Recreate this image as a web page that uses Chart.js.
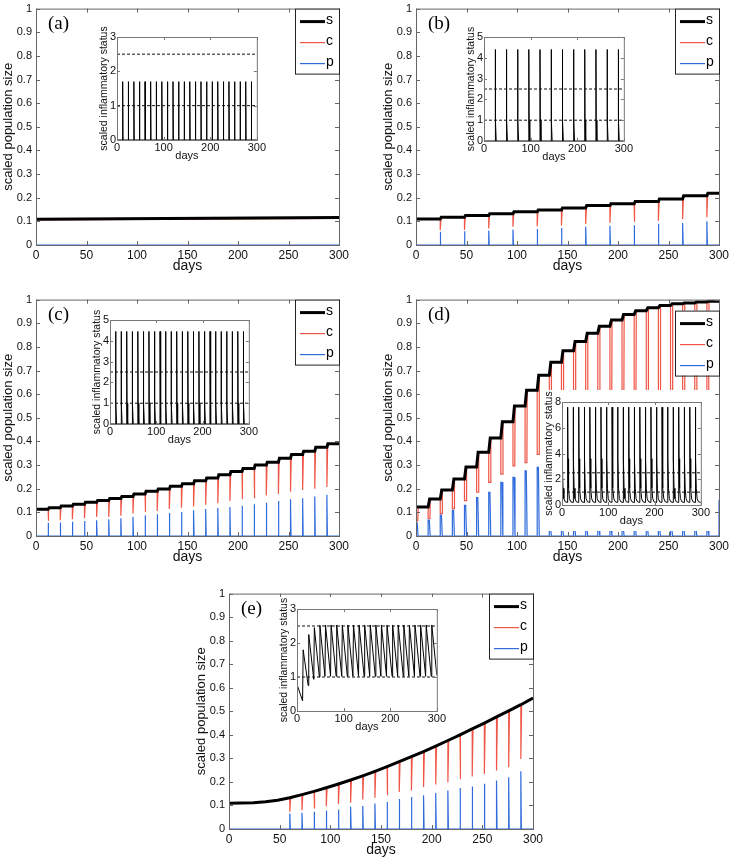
<!DOCTYPE html>
<html>
<head>
<meta charset="utf-8">
<script src="https://cdn.jsdelivr.net/npm/chart.js@4.4.1/dist/chart.umd.min.js"></script>
<style>
  body { margin: 0; background: #fff; }
  #fig { position: relative; width: 731px; height: 861px; overflow: hidden; }
  #fig canvas { position: absolute; }
</style>
</head>
<body>
<div id="fig"></div>
<script>
// ---- data ----
const doses12 = [12, 24, 36, 48, 60, 72, 84, 96, 108, 120, 132, 144, 156, 168, 180, 192, 204, 216, 228, 240, 252, 264, 276, 288];
const doses24 = [24, 48, 72, 96, 120, 144, 168, 192, 216, 240, 264, 288];
const thresholds = [1, 2.5];

// (a)
const sDaysA = [0, 300];
const sValsA = [0.109, 0.116];
const cValsA = [0.106, 0.113];
const pValsA = [0, 0];
const insetOffsetsA = [0, 0.15, 1.0];
const insetProfileA = [0, 1.7, 0];

// (b)
const sLevelsB = [0.110, 0.117, 0.125, 0.132, 0.141, 0.148, 0.157, 0.167, 0.174, 0.184, 0.195, 0.208, 0.219];
const cDipsB = [0.063, 0.064, 0.070, 0.077, 0.079, 0.083, 0.089, 0.094, 0.098, 0.103, 0.109, 0.117];
const pPeaksB = [0.056, 0.058, 0.061, 0.065, 0.068, 0.072, 0.077, 0.081, 0.084, 0.090, 0.093, 0.100];
const insetOffsetsB = [0, 0.15, 0.8, 2.2];
const insetProfileB = [0, 4.4, 1.0, 0];

// (c)
const sLevelsC = [0.113, 0.120, 0.127, 0.134, 0.143, 0.150, 0.159, 0.167, 0.178, 0.189, 0.199, 0.210, 0.221,
                  0.234, 0.245, 0.259, 0.273, 0.286, 0.300, 0.312, 0.329, 0.345, 0.359, 0.375, 0.390];
const cDipsC = [0.064, 0.067, 0.071, 0.075, 0.081, 0.081, 0.086, 0.095, 0.102, 0.106, 0.114, 0.120,
                0.125, 0.132, 0.139, 0.148, 0.155, 0.160, 0.171, 0.178, 0.187, 0.195, 0.200, 0.207];
const pPeaksC = [0.056, 0.057, 0.060, 0.063, 0.067, 0.071, 0.075, 0.081, 0.088, 0.092, 0.097, 0.102,
                 0.109, 0.114, 0.118, 0.123, 0.128, 0.134, 0.141, 0.148, 0.155, 0.160, 0.167, 0.174];
const insetProfileC = [0, 4.45, 1.0, 0];

// (d)
const dosesD = [0, 12, 24, 36, 48, 60, 72, 84, 96, 108, 120, 132, 144, 156, 168, 180, 192, 204, 216, 228, 240, 252, 264, 276, 288, 300];
const sLevelsD = [0.123, 0.123, 0.156, 0.195, 0.241, 0.292, 0.354, 0.415, 0.483, 0.550, 0.617, 0.680, 0.735, 0.784,
                  0.823, 0.858, 0.887, 0.914, 0.937, 0.953, 0.965, 0.975, 0.982, 0.986, 0.990, 0.993, 0.993];
const cDipsD = [0.065, 0.074, 0.095, 0.116, 0.150, 0.185, 0.227, 0.262, 0.297, 0.310, 0.345,
                0.45, 0.50, 0.53, 0.55, 0.56, 0.57, 0.58, 0.58, 0.58, 0.58, 0.58, 0.58, 0.58, 0.58, null];
const pPeaksD = [0.056, 0.067, 0.088, 0.109, 0.130, 0.162, 0.185, 0.227, 0.248, 0.276, 0.290,
                 0.040, 0.040, 0.040, 0.040, 0.040, 0.040, 0.040, 0.040, 0.040, 0.040, 0.040, 0.040, 0.040, 0.040, 0.150];
const insetDosesD = [0, 12, 24, 36, 48, 60, 72, 84, 96, 108, 120, 132, 144, 156, 168, 180, 192, 204, 216, 228, 240, 252, 264, 276, 288];
const insetOffsetsD = [0, 0.2, 1.0, 2.2, 4, 7];
const insetProfileD = [0.2, 7.6, 3.6, 1.3, 0.5, 0.25];

// (e)
const sDaysE = [0, 12, 24, 36, 48, 60, 72, 84, 96, 108, 120, 132, 144, 156, 168, 180, 192, 204, 216, 228, 240, 252, 264, 276, 288, 300];
const sValsE = [0.109, 0.110, 0.112, 0.116, 0.122, 0.133, 0.146, 0.160, 0.175, 0.191, 0.208, 0.226, 0.245,
                0.265, 0.286, 0.307, 0.329, 0.352, 0.376, 0.400, 0.425, 0.450, 0.476, 0.502, 0.528, 0.556];
const dosesE = [60, 72, 84, 96, 108, 120, 132, 144, 156, 168, 180, 192, 204, 216, 228, 240, 252, 264, 276, 288];
const cDipsE = [0.073, 0.080, 0.087, 0.097, 0.105, 0.112, 0.125, 0.133, 0.143, 0.157,
                0.164, 0.178, 0.189, 0.199, 0.211, 0.223, 0.234, 0.248, 0.262, 0.297];
const pPeaksE = [0.066, 0.069, 0.073, 0.077, 0.083, 0.094, 0.098, 0.108, 0.115, 0.127,
                 0.136, 0.143, 0.153, 0.164, 0.174, 0.181, 0.192, 0.206, 0.220, 0.245];
const insetStartE = 0.78;
const insetEndE = 1.05;
const insetLowsE = [0.30, 0.75, 0.93, 1.00, 1.02, 1.02, 1.02, 1.02, 1.02, 1.02, 1.02, 1.02,
                    1.02, 1.02, 1.02, 1.02, 1.02, 1.02, 1.02, 1.02, 1.02, 1.02, 1.02, 1.02];
const insetHighsE = [1.80, 2.25, 2.45, 2.52, 2.53, 2.53, 2.53, 2.53, 2.53, 2.53, 2.53, 2.53,
                     2.53, 2.53, 2.53, 2.53, 2.53, 2.53, 2.53, 2.53, 2.53, 2.53, 2.53, 2.53];

const RED = '#ee5546';
const BLUE = '#2f6bdc';
const FONT = '"Liberation Sans", Arial, sans-serif';

Chart.defaults.font.family = FONT;
Chart.defaults.color = '#111';

// ---- series builders (turn the read values into line points) ----
function pairs(days, vals) {
    return days.map((d, i) => ({ x: d, y: vals[i] }));
}

function stepLine(doses, levels, rise) {
    const pts = [{ x: 0, y: levels[0] }];
    doses.forEach((d, i) => {
        pts.push({ x: d, y: levels[i] });
        pts.push({ x: d + rise, y: levels[i + 1] });
    });
    pts.push({ x: 300, y: levels[levels.length - 1] });
    return pts;
}

function dipLine(doses, levels, dips, hold, rec) {
    const pts = [{ x: 0, y: levels[0] }];
    doses.forEach((d, i) => {
        pts.push({ x: d, y: levels[i] });
        if (dips[i] !== null) {
            pts.push({ x: d, y: dips[i] });
            if (hold) pts.push({ x: d + hold, y: dips[i] });
        }
        pts.push({ x: d + hold + rec, y: levels[i + 1] });
    });
    pts.push({ x: 300, y: levels[levels.length - 1] });
    return pts;
}

function smoothDipLine(days, vals, doses, dips, rec) {
    const pts = [];
    days.forEach((d, j) => {
        pts.push({ x: d, y: vals[j] });
        const k = doses.indexOf(d);
        if (k >= 0) {
            pts.push({ x: d, y: dips[k] });
            pts.push({ x: d + rec, y: vals[j] });
        }
    });
    return pts;
}

function pulseLine(doses, peaks, hold, fall) {
    const pts = [{ x: 0, y: 0 }];
    doses.forEach((d, i) => {
        pts.push({ x: d, y: 0 }, { x: d, y: peaks[i] });
        if (hold) pts.push({ x: d + hold, y: peaks[i] });
        pts.push({ x: d + hold + fall, y: 0 });
    });
    pts.push({ x: 300, y: 0 });
    return pts;
}

function profileLine(doses, offsets, profile, base) {
    const pts = [{ x: 0, y: base }];
    doses.forEach(d => offsets.forEach((o, k) => pts.push({ x: d + o, y: profile[k] })));
    pts.push({ x: 300, y: base });
    return pts;
}

function sawLine(start, doses, lows, highs, end) {
    const pts = [{ x: 0, y: start }];
    doses.forEach((d, i) => {
        pts.push({ x: d, y: lows[i] }, { x: d + 1.2, y: highs[i] });
    });
    pts.push({ x: 300, y: end });
    return pts;
}

// ---- drawing helpers ----
const framePlugin = {
    id: 'frame',
    afterDatasetsDraw(chart, args, opts) {
        const { ctx, chartArea: a, scales: { x, y } } = chart;
        const len = opts.len;
        ctx.save();
        ctx.strokeStyle = opts.color;
        ctx.lineWidth = 1;
        ctx.beginPath();
        x.ticks.forEach(t => {
            const px = Math.round(x.getPixelForValue(t.value)) + 0.5;
            ctx.moveTo(px, a.bottom); ctx.lineTo(px, a.bottom - len);
            ctx.moveTo(px, a.top); ctx.lineTo(px, a.top + len);
        });
        y.ticks.forEach(t => {
            const py = Math.round(y.getPixelForValue(t.value)) + 0.5;
            ctx.moveTo(a.left, py); ctx.lineTo(a.left + len, py);
            ctx.moveTo(a.right, py); ctx.lineTo(a.right - len, py);
        });
        ctx.stroke();
        ctx.strokeRect(a.left + 0.5, a.top + 0.5, a.right - a.left, a.bottom - a.top);
        ctx.restore();
    }
};

const keyPlugin = {
    id: 'key',
    afterDraw(chart, args, opts) {
        const { ctx, chartArea: a } = chart;
        const w = 44, h = 65;
        const x0 = a.right - w, y0 = a.top + opts.top;
        ctx.save();
        ctx.fillStyle = '#fff';
        ctx.fillRect(x0, y0, w, h);
        ctx.strokeStyle = '#222';
        ctx.lineWidth = 1;
        ctx.strokeRect(x0 + 0.5, y0 + 0.5, w, h);
        ctx.font = '14px ' + FONT;
        ctx.textBaseline = 'middle';
        chart.data.datasets.forEach((ds, i) => {
            const yy = y0 + 13 + i * 21;
            ctx.beginPath();
            ctx.strokeStyle = ds.borderColor;
            ctx.lineWidth = ds.borderWidth;
            ctx.moveTo(x0 + 5, yy);
            ctx.lineTo(x0 + 30, yy);
            ctx.stroke();
            ctx.fillStyle = '#000';
            ctx.fillText(ds.label, x0 + 31, yy - 1);
        });
        ctx.restore();
    }
};

const tagPlugin = {
    id: 'tag',
    afterDraw(chart, args, opts) {
        const { ctx, chartArea: a } = chart;
        ctx.save();
        ctx.font = '19px "Liberation Serif", "Times New Roman", serif';
        ctx.fillStyle = '#000';
        ctx.textBaseline = 'middle';
        ctx.fillText(opts.text, a.left + 12, a.top + 15);
        ctx.restore();
    }
};

const whitePlugin = {
    id: 'white',
    beforeDraw(chart) {
        const ctx = chart.ctx;
        ctx.save();
        ctx.fillStyle = '#fff';
        ctx.fillRect(0, 0, chart.width, chart.height);
        ctx.restore();
    }
};

const fig = document.getElementById('fig');
function addCanvas(left, top, w, h) {
    const cv = document.createElement('canvas');
    cv.width = w;
    cv.height = h;
    cv.style.left = left + 'px';
    cv.style.top = top + 'px';
    cv.style.width = w + 'px';
    cv.style.height = h + 'px';
    fig.appendChild(cv);
    return cv;
}

function mainChart(box, tag, sPts, cPts, pPts, keyTop) {
    const padT = 8, padR = 14, yW = 36, xH = 34;
    const cv = addCanvas(box.L - yW, box.T - padT, box.R - box.L + yW + padR, box.B - box.T + padT + xH);
    return new Chart(cv, {
        type: 'line',
        data: {
            datasets: [
                { label: 's', data: sPts, borderColor: '#000', borderWidth: 3 },
                { label: 'c', data: cPts, borderColor: RED, borderWidth: 1.2 },
                { label: 'p', data: pPts, borderColor: BLUE, borderWidth: 1.2 }
            ]
        },
        options: {
            responsive: false,
            animation: false,
            events: [],
            elements: { point: { radius: 0 }, line: { tension: 0 } },
            layout: { padding: { top: padT, right: padR, left: 0, bottom: 0 }, autoPadding: false },
            scales: {
                x: {
                    type: 'linear', min: 0, max: 300,
                    afterFit: s => { s.height = xH; },
                    grid: { display: false, drawTicks: false },
                    border: { display: false },
                    ticks: { stepSize: 50, maxRotation: 0, autoSkip: false, padding: 3, font: { size: 12 } },
                    title: { display: true, text: 'days', font: { size: 14 }, padding: { top: 0, bottom: 4 } }
                },
                y: {
                    min: 0, max: 1,
                    afterFit: s => { s.width = yW; },
                    grid: { display: false, drawTicks: false },
                    border: { display: false },
                    ticks: { stepSize: 0.1, autoSkip: false, padding: 4, font: { size: 11 },
                             callback: v => String(Number(v.toFixed(1))) },
                    title: { display: true, text: 'scaled population size', font: { size: 13 }, padding: { top: 1, bottom: 0 } }
                }
            },
            plugins: {
                legend: { display: false },
                tooltip: { enabled: false },
                frame: { len: 4, color: '#666' },
                key: { top: keyTop },
                tag: { text: tag }
            }
        },
        plugins: [framePlugin, keyPlugin, tagPlugin]
    });
}

function insetChart(box, yMax, yStep, pts) {
    const padT = 12, padR = 10, yW = 20, xH = 26;
    const cv = addCanvas(box.L - yW, box.T - padT, box.R - box.L + yW + padR, box.B - box.T + padT + xH);
    const dashed = thresholds.map(v => ({
        data: [{ x: 0, y: v }, { x: 300, y: v }],
        borderColor: '#111', borderWidth: 1, borderDash: [3, 2]
    }));
    return new Chart(cv, {
        type: 'line',
        data: { datasets: [...dashed, { data: pts, borderColor: '#000', borderWidth: 1 }] },
        options: {
            responsive: false,
            animation: false,
            events: [],
            elements: { point: { radius: 0 }, line: { tension: 0 } },
            layout: { padding: { top: padT, right: padR, left: 0, bottom: 0 }, autoPadding: false },
            scales: {
                x: {
                    type: 'linear', min: 0, max: 300,
                    afterFit: s => { s.height = xH; },
                    grid: { display: false, drawTicks: false },
                    border: { display: false },
                    ticks: { stepSize: 100, maxRotation: 0, autoSkip: false, padding: 1, font: { size: 11 } },
                    title: { display: true, text: 'days', font: { size: 11 }, padding: { top: 0, bottom: 3 } }
                },
                y: {
                    min: 0, max: yMax,
                    afterFit: s => { s.width = yW; },
                    grid: { display: false, drawTicks: false },
                    border: { display: false },
                    ticks: { stepSize: yStep, autoSkip: false, padding: 1, font: { size: 11 } },
                    title: { display: true, text: 'scaled inflammatory status', font: { size: 10.5 }, padding: { top: 1, bottom: 0 } }
                }
            },
            plugins: {
                legend: { display: false },
                tooltip: { enabled: false },
                frame: { len: 3, color: '#777' }
            }
        },
        plugins: [whitePlugin, framePlugin]
    });
}

// ---- main panels ----
mainChart({ L: 36, T: 6, R: 339, B: 245 }, '(a)',
    pairs(sDaysA, sValsA), pairs(sDaysA, cValsA), pairs(sDaysA, pValsA), 0);

mainChart({ L: 416, T: 6, R: 719, B: 245 }, '(b)',
    stepLine(doses24, sLevelsB, 1),
    dipLine(doses24, sLevelsB, cDipsB, 0, 0.8),
    pulseLine(doses24, pPeaksB, 0, 0.5), 0);

mainChart({ L: 36, T: 297, R: 339, B: 536 }, '(c)',
    stepLine(doses12, sLevelsC, 1),
    dipLine(doses12, sLevelsC, cDipsC, 0, 0.8),
    pulseLine(doses12, pPeaksC, 0, 0.5), 0);

mainChart({ L: 416, T: 297, R: 719, B: 536 }, '(d)',
    stepLine(dosesD, sLevelsD, 1.5),
    dipLine(dosesD, sLevelsD, cDipsD, 1.8, 0.3),
    pulseLine(dosesD, pPeaksD, 1.2, 0.8), 11);

mainChart({ L: 229, T: 591, R: 533, B: 829 }, '(e)',
    pairs(sDaysE, sValsE),
    smoothDipLine(sDaysE, sValsE, dosesE, cDipsE, 0.8),
    pulseLine(dosesE, pPeaksE, 0, 0.5), 0);

// ---- insets ----
insetChart({ L: 117, T: 37, R: 257, B: 140 }, 3, 1,
    profileLine(doses12, insetOffsetsA, insetProfileA, 0));
insetChart({ L: 484, T: 37, R: 624, B: 141 }, 5, 1,
    profileLine(doses24, insetOffsetsB, insetProfileB, 0));
insetChart({ L: 110, T: 320, R: 249, B: 424 }, 5, 1,
    profileLine(doses12, insetOffsetsB, insetProfileC, 0));
insetChart({ L: 562, T: 402, R: 701, B: 505 }, 8, 2,
    profileLine(insetDosesD, insetOffsetsD, insetProfileD, 0.2));
insetChart({ L: 297, T: 609, R: 437, B: 711 }, 3, 1,
    sawLine(insetStartE, doses12, insetLowsE, insetHighsE, insetEndE));
</script>
</body>
</html>
